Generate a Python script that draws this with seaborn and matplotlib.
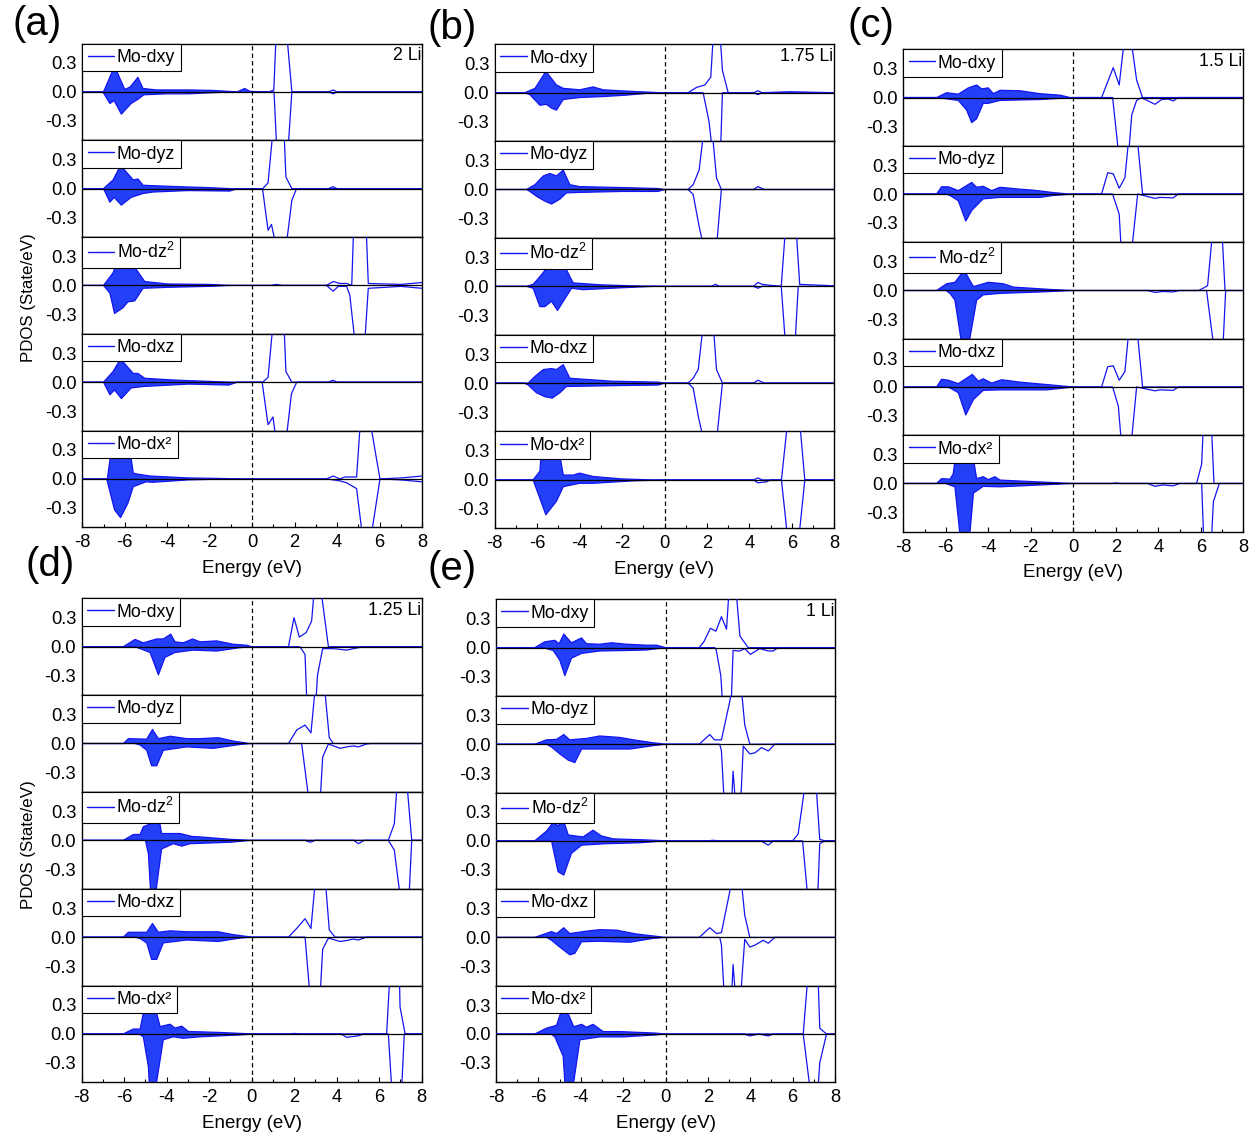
import numpy as np
import matplotlib
matplotlib.use("Agg")
import matplotlib.pyplot as plt
from matplotlib.lines import Line2D
from matplotlib.ticker import MultipleLocator
import seaborn as sns

sns.set_style("white")
plt.rcParams['font.family'] = ['Liberation Sans', 'DejaVu Sans']
plt.rcParams['mathtext.fontset'] = 'custom'
plt.rcParams['mathtext.rm'] = 'Liberation Sans'
plt.rcParams['mathtext.it'] = 'Liberation Sans'
for k in ('text.color', 'axes.labelcolor', 'xtick.color', 'ytick.color'):
    plt.rcParams[k] = 'black'

# ---------------- data: (energy eV, PDOS) points, spin up / spin down ----------------
# Panel (a) 2 Li
a_dxy_up = [(-8,0),(-7.0,0),(-6.48,0.265),(-6.0,0.025),(-5.75,0.05),(-5.38,0.15),(-5.14,0.035),(-4.5,0.02),(-3.0,0.02),(-1.84,0.015),(-0.7,0.0),(-0.35,0.035),(-0.1,0.005),(0.8,0),(1.02,0.02),(1.13,0.6),(1.63,0.6),(1.87,0),(3.6,0),(3.82,0.02),(4.0,0),(8,0)]
a_dxy_dn = [(-8,0),(-7.03,0),(-6.7,-0.12),(-6.5,-0.09),(-6.16,-0.23),(-5.7,-0.12),(-5.4,-0.08),(-5.1,-0.03),(-4.0,-0.02),(-3.0,-0.02),(-2.0,-0.01),(-1.0,0.0),(1.03,0),(1.16,-0.6),(1.69,-0.6),(1.87,0),(3.6,0),(3.82,-0.02),(4.0,0),(8,0)]
a_dyz_up = [(-8,0),(-7.0,0),(-6.55,0.09),(-6.2,0.24),(-5.6,0.09),(-5.38,0.10),(-5.14,0.035),(-4.6,0.03),(-3.4,0.02),(-2.0,0.01),(-1.0,0.0),(0.5,0),(0.75,0.06),(0.98,0.6),(1.5,0.6),(1.59,0.12),(1.87,0),(3.6,0),(3.8,0.02),(4.0,0),(8,0)]
a_dyz_dn = [(-8,0),(-7.0,0),(-6.7,-0.14),(-6.5,-0.09),(-6.16,-0.17),(-5.7,-0.09),(-5.14,-0.05),(-4.67,-0.035),(-3.0,-0.02),(-1.05,-0.025),(-0.7,0),(0.45,0),(0.5,-0.02),(0.75,-0.43),(0.91,-0.37),(1.13,-0.6),(1.6,-0.6),(1.87,-0.12),(2.09,0),(8,0)]
a_dz2_up = [(-8,0),(-7.0,0),(-6.55,0.13),(-6.4,0.22),(-6.2,0.24),(-5.85,0.22),(-5.6,0.21),(-5.06,0.04),(-4.0,0.015),(-2.0,0.01),(-1.0,0),(0.9,0),(1.15,0.01),(1.4,0),(3.5,0),(3.82,0.04),(4.13,0.02),(4.45,0.02),(4.69,0.0),(4.78,0.6),(5.37,0.6),(5.47,0.02),(7.0,0.01),(8,0.03)]
a_dz2_dn = [(-8,0),(-7.0,0),(-6.7,-0.08),(-6.48,-0.29),(-6.08,-0.23),(-5.85,-0.17),(-5.53,-0.16),(-5.14,-0.03),(-4.0,-0.02),(-2.0,-0.01),(-1.0,0),(3.5,0),(3.82,-0.06),(4.05,-0.01),(4.45,-0.01),(4.6,-0.1),(4.85,-0.6),(5.3,-0.6),(5.47,-0.03),(7.0,-0.01),(8,-0.03)]
a_dxz_up = [(-8,0),(-7.0,0),(-6.55,0.11),(-6.2,0.24),(-5.6,0.09),(-5.38,0.09),(-5.06,0.04),(-3.5,0.02),(-1.0,0.0),(0.5,0),(0.75,0.05),(0.98,0.6),(1.5,0.6),(1.59,0.11),(1.87,0),(3.6,0),(3.8,0.02),(4.0,0),(8,0)]
a_dxz_dn = [(-8,0),(-7.0,0),(-6.7,-0.13),(-6.48,-0.08),(-6.16,-0.17),(-5.7,-0.06),(-5.14,-0.045),(-3.0,-0.02),(-1.1,-0.03),(-0.7,0),(0.47,0),(0.75,-0.44),(0.98,-0.36),(1.13,-0.6),(1.6,-0.6),(1.85,-0.12),(2.1,0),(8,0)]
a_dx2_up = [(-8,0),(-6.82,0),(-6.45,0.6),(-5.95,0.6),(-5.6,0.06),(-5.4,0.05),(-4.8,0.03),(-3.0,0.01),(-1.5,0.005),(-0.5,0),(3.5,0),(3.82,0.03),(4.13,0.0),(4.37,0.02),(4.92,0.02),(5.1,0.6),(5.55,0.6),(6.02,0),(7.0,0.01),(8,0.03)]
a_dx2_dn = [(-8,0),(-6.85,0),(-6.48,-0.32),(-6.2,-0.4),(-5.85,-0.25),(-5.6,-0.08),(-5.0,-0.03),(-4.7,-0.035),(-3.0,-0.01),(-1.0,0),(3.5,0),(3.82,-0.01),(4.13,-0.02),(4.45,-0.04),(4.92,-0.1),(5.2,-0.6),(5.6,-0.6),(6.02,0),(7.0,-0.01),(8,-0.03)]

# Panel (b) 1.75 Li
b_dxy_up = [(-8,0),(-6.58,0),(-6.1,0.045),(-5.59,0.22),(-5.09,0.08),(-4.77,0.045),(-3.99,0.03),(-3.36,0.06),(-2.89,0.03),(-2.1,0.02),(-1.16,0.01),(-0.2,0),(1.11,0),(1.51,0.055),(1.9,0.08),(2.18,0.16),(2.3,0.6),(2.62,0.6),(2.73,0.23),(3.0,0),(4.2,0),(4.4,0.02),(4.6,0),(5.9,0.01),(8,0)]
b_dxy_dn = [(-8,0),(-6.6,0),(-6.34,-0.02),(-5.87,-0.13),(-5.56,-0.12),(-5.32,-0.16),(-5.09,-0.18),(-4.77,-0.07),(-4.0,-0.05),(-2.89,-0.04),(-1.79,-0.025),(-0.5,0),(1.82,0),(2.1,-0.3),(2.25,-0.6),(2.64,-0.6),(2.73,0),(4.2,0),(4.4,-0.02),(4.6,0),(8,0)]
b_dyz_up = [(-8,0),(-6.5,0),(-6.1,0.05),(-5.71,0.14),(-5.4,0.165),(-5.09,0.14),(-4.77,0.2),(-4.46,0.05),(-4.0,0.03),(-2.0,0.02),(-0.3,0.01),(0,0),(1.11,0),(1.35,0.05),(1.63,0.2),(1.85,0.6),(2.25,0.6),(2.45,0.12),(2.68,0),(4.2,0),(4.4,0.03),(4.7,0),(8,0)]
b_dyz_dn = [(-8,0),(-6.5,0),(-6.34,-0.02),(-6.03,-0.07),(-5.64,-0.12),(-5.32,-0.15),(-4.93,-0.10),(-4.62,-0.035),(-4.0,-0.03),(-2.0,-0.02),(-0.3,-0.02),(0,0),(1.11,0),(1.35,-0.05),(1.63,-0.38),(1.85,-0.6),(2.45,-0.6),(2.68,0),(8,0)]
b_dz2_up = [(-8,0),(-6.5,0),(-6.19,0.02),(-5.87,0.1),(-5.4,0.23),(-5.09,0.18),(-4.77,0.24),(-4.46,0.1),(-4.3,0.035),(-3.0,0.015),(-1.5,0.005),(0,0),(2.2,0),(2.4,0.02),(2.6,0),(4.2,0),(4.4,0.04),(4.6,0.02),(5.0,0.01),(5.5,0),(5.7,0.6),(6.2,0.6),(6.37,0.02),(8,0.005)]
b_dz2_dn = [(-8,0),(-6.5,0),(-6.19,-0.02),(-5.87,-0.21),(-5.64,-0.21),(-5.32,-0.155),(-5.04,-0.25),(-4.77,-0.155),(-4.38,-0.02),(-3.83,-0.035),(-2.0,-0.015),(-0.5,0),(4.2,0),(4.4,-0.02),(4.6,0),(5.5,0),(5.7,-0.6),(6.15,-0.6),(6.3,0),(8,0)]
b_dxz_up = [(-8,0),(-6.42,0),(-6.1,0.07),(-5.71,0.14),(-5.32,0.15),(-5.09,0.14),(-4.77,0.19),(-4.46,0.05),(-2.5,0.02),(-0.3,0.01),(0,0),(1.11,0),(1.35,0.05),(1.59,0.14),(1.82,0.6),(2.3,0.6),(2.45,0.14),(2.73,0),(4.2,0),(4.4,0.03),(4.7,0),(8,0)]
b_dxz_dn = [(-8,0),(-6.6,0),(-6.42,-0.02),(-6.03,-0.1),(-5.64,-0.14),(-5.29,-0.155),(-4.93,-0.1),(-4.62,-0.035),(-2.0,-0.025),(-0.3,-0.02),(0,0),(1.11,0),(1.35,-0.05),(1.59,-0.34),(1.85,-0.6),(2.45,-0.6),(2.73,0),(4.2,0),(4.4,-0.005),(4.7,0),(8,0)]
b_dx2_up = [(-8,0),(-6.19,0),(-5.87,0.09),(-5.7,0.6),(-5.2,0.6),(-4.77,0.05),(-4.3,0.05),(-4.0,0.07),(-3.36,0.035),(-2.0,0.01),(-0.5,0),(4.2,0),(4.4,0.02),(4.6,0),(5.51,0),(5.8,0.6),(6.37,0.6),(6.61,0),(8,0)]
b_dx2_dn = [(-8,0),(-6.19,0),(-5.59,-0.36),(-5.09,-0.22),(-4.77,-0.07),(-4.0,-0.035),(-3.36,-0.035),(-1.5,-0.01),(0,0),(4.2,0),(4.4,-0.03),(4.8,-0.02),(5.0,0),(5.51,0),(5.8,-0.6),(6.33,-0.6),(6.61,0),(8,0)]

# Panel (c) 1.5 Li
c_dxy_up = [(-8,0),(-6.43,0),(-5.96,0.05),(-5.41,0.035),(-4.94,0.1),(-4.55,0.13),(-4.31,0.09),(-4.0,0.1),(-3.76,0.04),(-3.45,0.075),(-2.5,0.07),(-1.57,0.04),(-0.63,0.025),(-0.15,0),(1.33,0),(1.88,0.31),(2.16,0.13),(2.4,0.6),(2.72,0.6),(2.98,0.18),(3.26,0),(8,0)]
c_dxy_dn = [(-8,0),(-6.43,0),(-5.41,-0.03),(-5.02,-0.13),(-4.78,-0.26),(-4.55,-0.22),(-4.24,-0.06),(-4.0,-0.06),(-3.45,-0.03),(-1.5,-0.02),(0,0),(1.85,0),(2.14,-0.6),(2.6,-0.6),(2.75,-0.18),(2.98,-0.03),(3.2,0),(3.84,-0.07),(4.16,-0.02),(4.47,-0.015),(4.7,-0.035),(4.94,0),(8,0)]
c_dyz_up = [(-8,0),(-6.43,0),(-6.2,0.075),(-5.88,0.075),(-5.41,0.035),(-4.78,0.12),(-4.55,0.07),(-4.24,0.08),(-3.84,0.035),(-3.45,0.07),(-2.5,0.05),(-1.88,0.04),(-0.94,0.015),(-0.2,0),(1.33,0),(1.62,0.22),(1.88,0.21),(2.16,0.06),(2.43,0.17),(2.62,0.6),(3.0,0.6),(3.26,0),(8,0)]
c_dyz_dn = [(-8,0),(-6.0,0),(-5.8,-0.015),(-5.41,-0.07),(-5.06,-0.28),(-4.78,-0.17),(-4.24,-0.05),(-3.45,-0.035),(-1.57,-0.035),(-0.94,-0.015),(0,0),(1.85,0),(2.16,-0.21),(2.26,-0.6),(2.74,-0.6),(3.03,0),(3.84,-0.045),(4.08,-0.035),(4.7,-0.04),(4.94,0),(8,0)]
c_dz2_up = [(-8,0),(-6.43,0),(-5.96,0.07),(-5.57,0.085),(-5.14,0.21),(-4.7,0.04),(-4.0,0.085),(-3.29,0.07),(-2.82,0.035),(-1.0,0.01),(0,0),(5.9,0),(6.12,0.025),(6.32,0.05),(6.55,0.6),(7.0,0.6),(7.14,0),(8,0)]
c_dz2_dn = [(-8,0),(-6.0,0),(-5.8,-0.03),(-5.57,-0.1),(-5.22,-0.6),(-4.95,-0.6),(-4.55,-0.1),(-4.24,-0.045),(-3.45,-0.03),(-1.5,-0.015),(0,0),(3.5,0),(3.84,-0.02),(4.2,-0.01),(4.7,-0.015),(5.0,0),(6.27,0),(6.62,-0.6),(7.04,-0.6),(7.17,0),(8,0)]
c_dxz_up = [(-8,0),(-6.43,0),(-6.2,0.08),(-5.88,0.07),(-5.41,0.035),(-4.75,0.13),(-4.47,0.06),(-4.24,0.085),(-3.84,0.04),(-3.37,0.075),(-2.5,0.05),(-1.25,0.025),(0,0),(1.33,0),(1.62,0.21),(1.88,0.22),(2.16,0.07),(2.43,0.16),(2.62,0.6),(3.0,0.6),(3.26,0),(8,0)]
c_dxz_dn = [(-8,0),(-6.0,0),(-5.8,-0.01),(-5.41,-0.06),(-5.06,-0.29),(-4.7,-0.13),(-4.24,-0.035),(-3.45,-0.03),(-1.25,-0.03),(0,0),(1.85,0),(2.12,-0.2),(2.27,-0.6),(2.72,-0.6),(2.98,0),(3.84,-0.04),(4.08,-0.03),(4.7,-0.035),(4.94,0),(8,0)]
c_dx2_up = [(-8,0),(-6.43,0),(-6.2,0.05),(-5.8,0.045),(-5.65,0.1),(-5.35,0.6),(-4.95,0.6),(-4.55,0.05),(-4.24,0.07),(-4.0,0.04),(-3.69,0.07),(-3.45,0.035),(-2.5,0.025),(-1.0,0.01),(0,0),(1.8,0),(2.0,0.005),(2.2,0),(5.8,0),(6.04,0.2),(6.12,0.6),(6.5,0.6),(6.62,0),(8,0)]
c_dx2_dn = [(-8,0),(-6.0,0),(-5.57,-0.035),(-5.3,-0.6),(-4.9,-0.6),(-4.7,-0.1),(-4.24,-0.03),(-3.45,-0.035),(-1.0,-0.01),(0,0),(3.5,0),(3.84,-0.03),(4.2,-0.015),(4.7,-0.025),(5.0,0),(6.04,0),(6.14,-0.6),(6.5,-0.6),(6.59,-0.19),(6.87,0),(8,0)]

# Panel (d) 1.25 Li
d_dxy_up = [(-8,0),(-6.04,0),(-5.49,0.075),(-5.1,0.04),(-4.47,0.08),(-4.16,0.08),(-3.81,0.13),(-3.61,0.05),(-3.22,0.04),(-2.78,0.08),(-2.43,0.05),(-1.65,0.06),(-0.86,0.025),(-0.24,0.015),(0,0),(1.73,0),(1.99,0.3),(2.24,0.1),(2.56,0.145),(2.82,0.265),(2.95,0.6),(3.25,0.6),(3.61,0),(8,0)]
d_dxy_dn = [(-8,0),(-5.5,0),(-5.25,-0.02),(-4.78,-0.06),(-4.39,-0.29),(-4.08,-0.11),(-3.61,-0.06),(-2.75,-0.035),(-1.65,-0.045),(-0.55,-0.01),(0,0),(2.27,0),(2.51,-0.08),(2.6,-0.6),(3.01,-0.6),(3.1,-0.29),(3.34,-0.02),(3.84,-0.02),(4.47,-0.035),(5.02,-0.01),(5.41,0),(8,0)]
d_dyz_up = [(-8,0),(-6.04,0),(-5.8,0.05),(-4.94,0.045),(-4.67,0.145),(-4.39,0.05),(-3.84,0.075),(-3.06,0.05),(-2.43,0.05),(-1.57,0.06),(-0.86,0.025),(-0.1,0),(1.73,0),(2.12,0.14),(2.51,0.19),(2.79,0.11),(3.0,0.6),(3.42,0.6),(3.65,0.06),(3.84,0),(8,0)]
d_dyz_dn = [(-8,0),(-5.5,0),(-5.25,-0.015),(-4.94,-0.07),(-4.71,-0.23),(-4.47,-0.23),(-4.16,-0.07),(-3.06,-0.035),(-1.8,-0.05),(-0.55,-0.01),(0,0),(2.35,0),(2.7,-0.6),(3.22,-0.6),(3.34,-0.14),(3.61,-0.005),(4.16,-0.05),(4.47,-0.035),(4.78,-0.025),(5.02,-0.035),(5.41,-0.005),(5.6,0),(8,0)]
d_dz2_up = [(-8,0),(-6.04,0),(-5.57,0.06),(-5.25,0.06),(-5.1,0.14),(-4.55,0.19),(-4.35,0.21),(-4.24,0.07),(-3.37,0.07),(-2.82,0.04),(-2.43,0.035),(-1.0,0.01),(0,0),(6.43,0),(6.71,0.17),(6.85,0.6),(7.3,0.6),(7.53,0),(8,0)]
d_dz2_dn = [(-8,0),(-5.0,0),(-4.86,-0.14),(-4.74,-0.6),(-4.55,-0.6),(-4.24,-0.09),(-3.69,-0.035),(-3.29,-0.06),(-2.9,-0.035),(-1.0,-0.02),(0,0),(2.5,0),(2.75,-0.02),(3.0,0),(4.8,0),(5.02,-0.035),(5.3,0),(6.43,0),(6.71,-0.1),(7.0,-0.6),(7.4,-0.6),(7.53,0),(8,0)]
d_dxz_up = [(-8,0),(-6.04,0),(-5.8,0.05),(-4.94,0.05),(-4.67,0.14),(-4.39,0.05),(-3.84,0.065),(-3.06,0.055),(-1.57,0.055),(-0.86,0.025),(0,0),(1.73,0),(2.12,0.09),(2.51,0.19),(2.79,0.09),(3.0,0.6),(3.46,0.6),(3.65,0.075),(3.92,0),(8,0)]
d_dxz_dn = [(-8,0),(-5.5,0),(-5.25,-0.015),(-4.94,-0.06),(-4.71,-0.23),(-4.47,-0.23),(-4.16,-0.06),(-3.06,-0.03),(-1.57,-0.045),(-0.55,-0.01),(0,0),(2.51,0),(2.74,-0.6),(3.22,-0.6),(3.34,-0.125),(3.61,-0.01),(4.16,-0.045),(4.47,-0.035),(4.78,-0.02),(5.02,-0.03),(5.41,0),(8,0)]
d_dx2_up = [(-8,0),(-6.04,0),(-5.57,0.05),(-5.25,0.05),(-5.05,0.27),(-4.55,0.28),(-4.31,0.075),(-3.84,0.1),(-3.61,0.06),(-3.29,0.08),(-2.98,0.025),(-1.5,0.015),(0,0),(1.8,0),(2.0,0.005),(2.3,0),(6.35,0),(6.5,0.6),(6.95,0.6),(6.98,0.28),(7.22,0),(8,0)]
d_dx2_dn = [(-8,0),(-5.3,0),(-5.1,-0.03),(-4.86,-0.34),(-4.8,-0.6),(-4.55,-0.6),(-4.16,-0.06),(-3.69,-0.03),(-3.22,-0.045),(-2.43,-0.03),(-0.5,-0.01),(0,0),(4.2,0),(4.47,-0.035),(5.02,-0.02),(5.3,0),(6.43,0),(6.6,-0.6),(7.05,-0.6),(7.18,0),(8,0)]

# Panel (e) 1 Li
e_dxy_up = [(-8,0),(-6.17,0),(-5.7,0.06),(-5.22,0.075),(-5.02,0.04),(-4.8,0.14),(-4.44,0.05),(-3.96,0.1),(-3.73,0.04),(-3.1,0.035),(-2.55,0.05),(-1.84,0.035),(-0.9,0.025),(-0.42,0.025),(0,0),(1.59,0),(1.81,0.06),(2.12,0.2),(2.38,0.17),(2.64,0.32),(2.88,0.19),(3.0,0.6),(3.33,0.6),(3.51,0.12),(3.9,0),(8,0)]
e_dxy_dn = [(-8,0),(-5.8,0),(-5.62,-0.01),(-5.3,-0.03),(-4.99,-0.13),(-4.75,-0.29),(-4.44,-0.11),(-3.96,-0.06),(-3.1,-0.035),(-1.84,-0.03),(-0.9,-0.025),(0,0),(2.33,0),(2.4,-0.03),(2.61,-0.29),(2.7,-0.6),(3.1,-0.6),(3.19,-0.03),(3.51,-0.035),(3.74,-0.01),(4.01,-0.07),(4.45,-0.01),(4.85,-0.035),(5.08,-0.035),(5.32,0),(8,0)]
e_dyz_up = [(-8,0),(-6.17,0),(-5.62,0.045),(-5.14,0.05),(-4.8,0.1),(-4.52,0.045),(-3.73,0.06),(-3.1,0.085),(-2.16,0.07),(-1.37,0.04),(-0.58,0.015),(0,0),(1.59,0),(2.09,0.1),(2.31,0.045),(2.64,0.045),(3.04,0.45),(3.14,0.6),(3.57,0.6),(3.74,0.2),(3.98,0),(8,0)]
e_dyz_dn = [(-8,0),(-5.6,0),(-5.38,-0.03),(-4.99,-0.1),(-4.59,-0.165),(-4.28,-0.19),(-3.96,-0.05),(-3.1,-0.05),(-1.68,-0.05),(-0.58,-0.015),(0,0),(2.56,0),(2.64,-0.07),(2.77,-0.6),(3.12,-0.6),(3.19,-0.28),(3.3,-0.6),(3.55,-0.6),(3.67,-0.02),(3.98,-0.1),(4.22,-0.09),(4.53,-0.035),(4.85,-0.07),(5.16,0),(8,0)]
e_dz2_up = [(-8,0),(-6.17,0),(-5.62,0.1),(-5.3,0.19),(-5.07,0.155),(-4.83,0.22),(-4.59,0.06),(-3.89,0.04),(-3.42,0.11),(-3.02,0.05),(-2.47,0.02),(-1.0,0.01),(0,0),(2.0,0),(2.25,0.005),(2.5,0),(6.0,0),(6.26,0.07),(6.6,0.6),(7.1,0.6),(7.28,0.015),(7.52,0),(8,0)]
e_dz2_dn = [(-8,0),(-5.6,0),(-5.38,0),(-5.07,-0.32),(-4.8,-0.355),(-4.44,-0.13),(-3.96,-0.045),(-2.78,-0.03),(-1.2,-0.02),(0,0),(4.5,0),(4.85,-0.045),(5.1,0),(6.47,0),(6.72,-0.6),(7.18,-0.6),(7.28,-0.03),(7.52,0),(8,0)]
e_dxz_up = [(-8,0),(-6.17,0),(-5.38,0.06),(-5.14,0.04),(-4.8,0.1),(-4.52,0.04),(-3.73,0.065),(-3.1,0.08),(-2.31,0.075),(-1.37,0.035),(-0.58,0.015),(0,0),(1.59,0),(2.09,0.1),(2.41,0.04),(2.64,0.05),(3.15,0.6),(3.57,0.6),(3.74,0.23),(3.98,0),(8,0)]
e_dxz_dn = [(-8,0),(-5.6,0),(-5.38,-0.03),(-4.99,-0.1),(-4.52,-0.18),(-4.28,-0.165),(-3.96,-0.045),(-3.1,-0.04),(-1.68,-0.05),(-0.58,-0.01),(0,0),(2.56,0),(2.64,-0.08),(2.77,-0.6),(3.12,-0.6),(3.19,-0.28),(3.3,-0.6),(3.55,-0.6),(3.74,-0.02),(3.98,-0.1),(4.22,-0.08),(4.61,-0.03),(4.85,-0.06),(5.16,0),(8,0)]
e_dx2_up = [(-8,0),(-6.17,0),(-5.62,0.06),(-5.14,0.09),(-4.9,0.25),(-4.67,0.25),(-4.33,0.075),(-3.96,0.1),(-3.73,0.07),(-3.42,0.1),(-2.94,0.025),(-2.16,0.025),(-0.5,0.01),(0,0),(6.5,0),(6.72,0.6),(7.2,0.6),(7.28,0.06),(7.6,0),(8,0)]
e_dx2_dn = [(-8,0),(-5.4,0),(-5.22,-0.03),(-4.83,-0.23),(-4.72,-0.6),(-4.4,-0.6),(-4.04,-0.06),(-3.1,-0.03),(-2.0,-0.03),(-0.5,-0.01),(0,0),(3.7,0),(3.98,-0.02),(4.4,0),(4.85,-0.02),(5.1,0),(6.5,0),(6.84,-0.6),(7.19,-0.6),(7.28,-0.3),(7.6,0),(8,0)]

panels = ['a', 'b', 'c', 'd', 'e']
li_labels = ['2 Li', '1.75 Li', '1.5 Li', '1.25 Li', '1 Li']
orbitals = ['dxy', 'dyz', 'dz2', 'dxz', 'dx2']
orbital_labels = ['Mo-dxy', 'Mo-dyz', 'Mo-dz$^2$', 'Mo-dxz', 'Mo-dx²']
x_ticks = [-8, -6, -4, -2, 0, 2, 4, 6, 8]
y_ticks = [-0.3, 0.0, 0.3]
y_tick_labels = ['-0.3', '0.0', '0.3']

# ---------------- layout (pixel boxes of each panel: left, top, right, bottom) ----------------
W, H = 1260, 1137
boxes = {'a': (82.3, 43.5, 422.0, 527.3),
         'b': (494.7, 44.3, 834.3, 528.3),
         'c': (903.3, 49.3, 1243.3, 531.7),
         'd': (81.7, 598.3, 421.7, 1082.3),
         'e': (496.0, 599.3, 835.0, 1082.3)}
panel_tag_pos = {'a': (37, 24), 'b': (452, 28), 'c': (871, 26), 'd': (50, 565), 'e': (452, 569)}

FILL = '#2340f6'
LINE = '#1414f0'
FS_TICK = 13.2
FS_LEG = 12.8
FS_LAB = 13.5

fig = plt.figure(figsize=(W / 100, H / 100), dpi=100)

for p, li in zip(panels, li_labels):
    l, t, r, b = boxes[p]
    sub_h = (b - t) / 5
    for i, (orb, olab) in enumerate(zip(orbitals, orbital_labels)):
        top = t + i * sub_h
        ax = fig.add_axes([l / W, 1 - (top + sub_h) / H, (r - l) / W, sub_h / H])
        up = globals()[f'{p}_{orb}_up']
        dn = globals()[f'{p}_{orb}_dn']
        # filled occupied states (E <= 0)
        poly = [pt for pt in up if pt[0] <= 0] + [pt for pt in dn if pt[0] <= 0][::-1]
        ax.fill([q[0] for q in poly], [q[1] for q in poly], color=FILL, lw=0, zorder=2)
        for curve in (up, dn):
            sns.lineplot(x=[q[0] for q in curve], y=[q[1] for q in curve], ax=ax,
                         color=LINE, lw=0.9, sort=False, estimator=None, zorder=3)
        ax.axhline(0, color='black', lw=0.9, zorder=4)
        ax.axvline(0, color='black', lw=0.9, ls=(0, (3.5, 2.5)), zorder=4)
        ax.set_xlim(-8, 8)
        ax.set_ylim(-0.5, 0.5)
        ax.set_yticks(y_ticks)
        ax.set_yticklabels(y_tick_labels, fontsize=FS_TICK)
        ax.tick_params(axis='y', length=0, pad=4)
        ax.set_xticks(x_ticks)
        ax.xaxis.set_minor_locator(MultipleLocator(1))
        ax.set_ylabel('')
        if i < 4:
            ax.set_xticklabels([])
            ax.tick_params(axis='x', which='both', length=0)
            ax.set_xlabel('')
        else:
            ax.set_xticklabels([str(v) for v in x_ticks], fontsize=FS_TICK)
            ax.tick_params(axis='x', which='major', direction='in', length=3.5, width=0.8, pad=5, bottom=True)
            ax.tick_params(axis='x', which='minor', direction='in', length=2.5, width=0.8, bottom=True)
            ax.set_xlabel('Energy (eV)', fontsize=FS_LAB, labelpad=6)
        for s in ax.spines.values():
            s.set_color('black')
            s.set_linewidth(1.0)
        leg = ax.legend(handles=[Line2D([], [], color=LINE, lw=1.0)], labels=[olab],
                        loc='upper left', borderaxespad=0, frameon=True, fancybox=False,
                        framealpha=1, edgecolor='black', fontsize=FS_LEG, handlelength=1.5,
                        handletextpad=0.15, borderpad=0.3)
        leg.get_frame().set_linewidth(0.8)
        if i == 0:
            ax.text(0.998, 0.96, li, transform=ax.transAxes, ha='right', va='top', fontsize=12.8)

    tx, ty = panel_tag_pos[p]
    fig.text(tx / W, 1 - ty / H, f'({p})', fontsize=29, ha='center', va='center')

fig.text(28 / W, 1 - 298 / H, 'PDOS (State/eV)', rotation=90, fontsize=12.2, ha='center', va='center')
fig.text(28 / W, 1 - 845 / H, 'PDOS (State/eV)', rotation=90, fontsize=12.2, ha='center', va='center')

fig.savefig('out.png', dpi=100)
